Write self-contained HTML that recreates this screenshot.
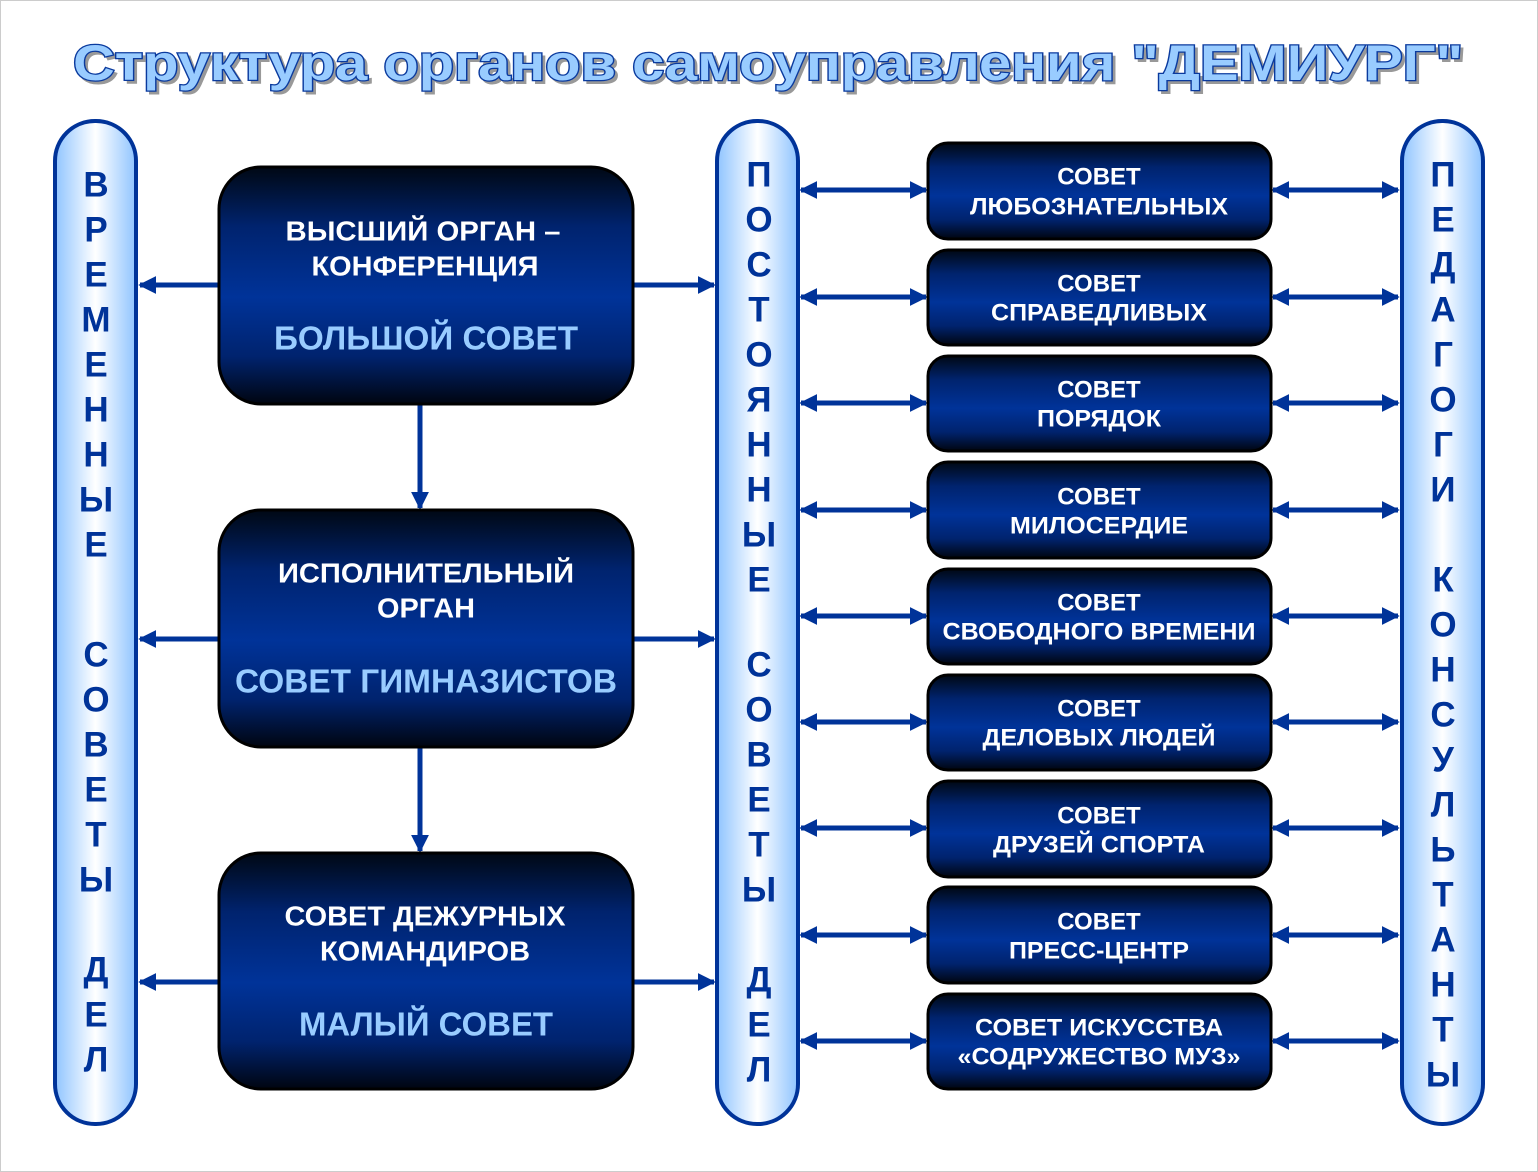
<!DOCTYPE html>
<html><head><meta charset="utf-8"><style>html,body{margin:0;padding:0;background:#fff}svg{display:block}</style></head><body>
<svg width="1538" height="1172" viewBox="0 0 1538 1172" xmlns="http://www.w3.org/2000/svg" font-family="'Liberation Sans', Arial, sans-serif" font-weight="bold">
<defs>
<linearGradient id="pil" x1="0" x2="1" y1="0" y2="0"><stop offset="0" stop-color="#8fc4ff"/><stop offset="0.5" stop-color="#ffffff"/><stop offset="1" stop-color="#8fc4ff"/></linearGradient>
<linearGradient id="box" x1="0" x2="0" y1="0" y2="1"><stop offset="0" stop-color="#000814"/><stop offset="0.25" stop-color="#00236e"/><stop offset="0.55" stop-color="#003399"/><stop offset="0.8" stop-color="#00236e"/><stop offset="1" stop-color="#000510"/></linearGradient>
<marker id="ah" viewBox="0 0 10 10" refX="9" refY="5" markerWidth="3.6" markerHeight="4.4" orient="auto-start-reverse" markerUnits="strokeWidth"><path d="M0,0 L10,5 L0,10 z" fill="#003399"/></marker>
</defs>
<rect x="0.5" y="0.5" width="1537" height="1171" fill="#fff" stroke="#ccc"/>
<text x="768" y="80" text-anchor="middle" font-size="50" fill="#999" stroke="#999" stroke-width="2" textLength="1390" lengthAdjust="spacingAndGlyphs" transform="translate(3,3)">Структура органов самоуправления "ДЕМИУРГ"</text>
<text x="768" y="80" text-anchor="middle" font-size="50" fill="#99ccff" stroke="#0a3a9e" stroke-width="2.5" paint-order="stroke" textLength="1390" lengthAdjust="spacingAndGlyphs">Структура органов самоуправления "ДЕМИУРГ"</text>
<rect x="55" y="121" width="81" height="1003" rx="40" fill="url(#pil)" stroke="#003399" stroke-width="4"/>
<rect x="717" y="121" width="81" height="1003" rx="40" fill="url(#pil)" stroke="#003399" stroke-width="4"/>
<rect x="1402" y="121" width="81" height="1003" rx="40" fill="url(#pil)" stroke="#003399" stroke-width="4"/>
<g font-size="35" fill="#003399" text-anchor="middle" dominant-baseline="central">
<text x="96" y="185">В</text><text x="96" y="230">Р</text><text x="96" y="275">Е</text><text x="96" y="320">М</text><text x="96" y="365">Е</text><text x="96" y="410">Н</text><text x="96" y="455">Н</text><text x="96" y="500">Ы</text><text x="96" y="545">Е</text>
<text x="96" y="655">С</text><text x="96" y="700">О</text><text x="96" y="745">В</text><text x="96" y="790">Е</text><text x="96" y="835">Т</text><text x="96" y="880">Ы</text>
<text x="96" y="970">Д</text><text x="96" y="1015">Е</text><text x="96" y="1060">Л</text>
<text x="759" y="175">П</text><text x="759" y="220">О</text><text x="759" y="265">С</text><text x="759" y="310">Т</text><text x="759" y="355">О</text><text x="759" y="400">Я</text><text x="759" y="445">Н</text><text x="759" y="490">Н</text><text x="759" y="535">Ы</text><text x="759" y="580">Е</text>
<text x="759" y="665">С</text><text x="759" y="710">О</text><text x="759" y="755">В</text><text x="759" y="800">Е</text><text x="759" y="845">Т</text><text x="759" y="890">Ы</text>
<text x="759" y="980">Д</text><text x="759" y="1025">Е</text><text x="759" y="1070">Л</text>
<text x="1443" y="175">П</text><text x="1443" y="220">Е</text><text x="1443" y="265">Д</text><text x="1443" y="310">А</text><text x="1443" y="355">Г</text><text x="1443" y="400">О</text><text x="1443" y="445">Г</text><text x="1443" y="490">И</text>
<text x="1443" y="580">К</text><text x="1443" y="625">О</text><text x="1443" y="670">Н</text><text x="1443" y="715">С</text><text x="1443" y="760">У</text><text x="1443" y="805">Л</text><text x="1443" y="850">Ь</text><text x="1443" y="895">Т</text><text x="1443" y="940">А</text><text x="1443" y="985">Н</text><text x="1443" y="1030">Т</text><text x="1443" y="1075">Ы</text>
</g>
<g stroke="#003399" stroke-width="5" fill="none">
<line x1="218" y1="285" x2="140" y2="285" marker-end="url(#ah)"/>
<line x1="634" y1="285" x2="714" y2="285" marker-end="url(#ah)"/>
<line x1="218" y1="639" x2="140" y2="639" marker-end="url(#ah)"/>
<line x1="634" y1="639" x2="714" y2="639" marker-end="url(#ah)"/>
<line x1="218" y1="982" x2="140" y2="982" marker-end="url(#ah)"/>
<line x1="634" y1="982" x2="714" y2="982" marker-end="url(#ah)"/>
<line x1="420" y1="405" x2="420" y2="508" marker-end="url(#ah)"/>
<line x1="420" y1="748" x2="420" y2="851" marker-end="url(#ah)"/>
<g marker-start="url(#ah)" marker-end="url(#ah)">
<line x1="801" y1="190" x2="926" y2="190"/><line x1="1273" y1="190" x2="1398" y2="190"/>
<line x1="801" y1="297" x2="926" y2="297"/><line x1="1273" y1="297" x2="1398" y2="297"/>
<line x1="801" y1="403" x2="926" y2="403"/><line x1="1273" y1="403" x2="1398" y2="403"/>
<line x1="801" y1="510" x2="926" y2="510"/><line x1="1273" y1="510" x2="1398" y2="510"/>
<line x1="801" y1="616" x2="926" y2="616"/><line x1="1273" y1="616" x2="1398" y2="616"/>
<line x1="801" y1="722" x2="926" y2="722"/><line x1="1273" y1="722" x2="1398" y2="722"/>
<line x1="801" y1="828" x2="926" y2="828"/><line x1="1273" y1="828" x2="1398" y2="828"/>
<line x1="801" y1="935" x2="926" y2="935"/><line x1="1273" y1="935" x2="1398" y2="935"/>
<line x1="801" y1="1041" x2="926" y2="1041"/><line x1="1273" y1="1041" x2="1398" y2="1041"/>
</g>
</g>
<g stroke="#000" stroke-width="3" fill="url(#box)">
<rect x="219" y="167" width="414" height="237" rx="42"/>
<rect x="219" y="510" width="414" height="237" rx="42"/>
<rect x="219" y="853" width="414" height="236" rx="42"/>
</g>
<g text-anchor="middle" dominant-baseline="central">
<g fill="#fff" font-size="28">
<text x="423" y="231" textLength="275" lengthAdjust="spacingAndGlyphs">ВЫСШИЙ ОРГАН –</text>
<text x="425" y="266" textLength="227" lengthAdjust="spacingAndGlyphs">КОНФЕРЕНЦИЯ</text>
<text x="426" y="573" textLength="296" lengthAdjust="spacingAndGlyphs">ИСПОЛНИТЕЛЬНЫЙ</text>
<text x="426" y="608" textLength="98" lengthAdjust="spacingAndGlyphs">ОРГАН</text>
<text x="425" y="916" textLength="281" lengthAdjust="spacingAndGlyphs">СОВЕТ ДЕЖУРНЫХ</text>
<text x="425" y="951" textLength="210" lengthAdjust="spacingAndGlyphs">КОМАНДИРОВ</text>
</g>
<g fill="#99ccff" font-size="33">
<text x="426" y="338" textLength="304" lengthAdjust="spacingAndGlyphs">БОЛЬШОЙ СОВЕТ</text>
<text x="426" y="681" textLength="382" lengthAdjust="spacingAndGlyphs">СОВЕТ ГИМНАЗИСТОВ</text>
<text x="426" y="1024" textLength="254" lengthAdjust="spacingAndGlyphs">МАЛЫЙ СОВЕТ</text>
</g>
</g>
<g stroke="#000" stroke-width="3" fill="url(#box)">
<rect x="928" y="143" width="343" height="96" rx="20"/>
<rect x="928" y="250" width="343" height="95" rx="20"/>
<rect x="928" y="356" width="343" height="95" rx="20"/>
<rect x="928" y="462" width="343" height="96" rx="20"/>
<rect x="928" y="569" width="343" height="95" rx="20"/>
<rect x="928" y="675" width="343" height="95" rx="20"/>
<rect x="928" y="781" width="343" height="96" rx="20"/>
<rect x="928" y="887" width="343" height="96" rx="20"/>
<rect x="928" y="994" width="343" height="95" rx="20"/>
</g>
<g fill="#fff" font-size="24" text-anchor="middle" dominant-baseline="central">
<text x="1099" y="177">СОВЕТ</text><text x="1099" y="207" textLength="258" lengthAdjust="spacingAndGlyphs">ЛЮБОЗНАТЕЛЬНЫХ</text>
<text x="1099" y="284">СОВЕТ</text><text x="1099" y="313" textLength="216" lengthAdjust="spacingAndGlyphs">СПРАВЕДЛИВЫХ</text>
<text x="1099" y="390">СОВЕТ</text><text x="1099" y="419" textLength="124" lengthAdjust="spacingAndGlyphs">ПОРЯДОК</text>
<text x="1099" y="497">СОВЕТ</text><text x="1099" y="526" textLength="178" lengthAdjust="spacingAndGlyphs">МИЛОСЕРДИЕ</text>
<text x="1099" y="603">СОВЕТ</text><text x="1099" y="632" textLength="313" lengthAdjust="spacingAndGlyphs">СВОБОДНОГО ВРЕМЕНИ</text>
<text x="1099" y="709">СОВЕТ</text><text x="1099" y="738" textLength="233" lengthAdjust="spacingAndGlyphs">ДЕЛОВЫХ ЛЮДЕЙ</text>
<text x="1099" y="816">СОВЕТ</text><text x="1099" y="845" textLength="212" lengthAdjust="spacingAndGlyphs">ДРУЗЕЙ СПОРТА</text>
<text x="1099" y="922">СОВЕТ</text><text x="1099" y="951" textLength="180" lengthAdjust="spacingAndGlyphs">ПРЕСС-ЦЕНТР</text>
<text x="1099" y="1028" textLength="248" lengthAdjust="spacingAndGlyphs">СОВЕТ ИСКУССТВА</text><text x="1099" y="1057" textLength="283" lengthAdjust="spacingAndGlyphs">«СОДРУЖЕСТВО МУЗ»</text>
</g>
</svg>
</body></html>
